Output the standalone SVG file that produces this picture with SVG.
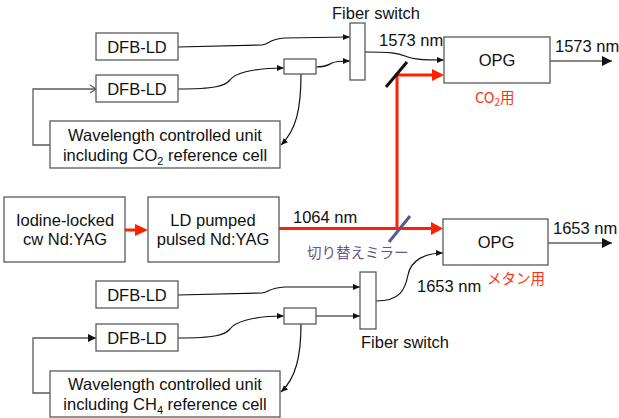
<svg xmlns="http://www.w3.org/2000/svg" width="619" height="418" viewBox="0 0 619 418">
<defs>
<style>
.box{fill:#fff;stroke:#5a5a5a;stroke-width:1.3}
.t{font-family:"Liberation Sans",Arial,sans-serif;font-size:16.5px;fill:#111;text-anchor:middle}
.tl{font-family:"Liberation Sans",Arial,sans-serif;font-size:16.5px;fill:#111}
.jp{font-family:"Noto Sans CJK JP","Liberation Sans",sans-serif;font-size:14.5px}
.red{fill:#ff3010}
.pur{fill:#65568a}
.fb{fill:none;stroke:#111;stroke-width:1.2}
.gray{fill:none;stroke:#5a5a5a;stroke-width:1.3}
.beam{fill:none;stroke:#ff2000;stroke-width:3}
</style>
<marker id="ah" markerWidth="8" markerHeight="8" refX="7" refY="4" orient="auto" markerUnits="userSpaceOnUse">
<path d="M0,1 L7,4 L0,7 Z" fill="#111"/>
</marker>
<marker id="ahbig" markerWidth="12" markerHeight="12" refX="10" refY="6" orient="auto" markerUnits="userSpaceOnUse">
<path d="M0,1 L10,6 L0,11 Z" fill="#111"/>
</marker>
<marker id="open" markerWidth="10" markerHeight="10" refX="8" refY="5" orient="auto" markerUnits="userSpaceOnUse">
<path d="M2,1 L8,5 L2,9" fill="none" stroke="#5a5a5a" stroke-width="1.2"/>
</marker>
<marker id="fill" markerWidth="10" markerHeight="10" refX="8" refY="5" orient="auto" markerUnits="userSpaceOnUse">
<path d="M0,1 L8,5 L0,9 Z" fill="#111"/>
</marker>
</defs>
<rect width="619" height="418" fill="#fff"/>

<g id="connectors">
<path class="fb" d="M178,47 L262,45 C270,44 268,39 285,38 L350,37" marker-end="url(#ah)"/>
<path class="fb" d="M178,89 C215,89 225,86 230,80 C234,74 250,68 284,68" marker-end="url(#ah)"/>
<path class="fb" d="M316,67 C326,67 328,65 332,63 C336,61 340,61 350,61" marker-end="url(#ah)"/>
<path class="fb" d="M365,52 C390,52 398,53 405,56 C412,59 420,60 444,60" marker-end="url(#ah)"/>
<path class="fb" d="M301,74 C301,110 296,130 281,145" marker-end="url(#ah)"/>
<path class="gray" d="M50,145 L33,145 L33,89 L96,89" marker-end="url(#open)"/>
<path class="fb" d="M550,61 L612,61" marker-end="url(#ahbig)"/>
<path class="fb" d="M178,295 L262,293 C270,292 268,288 285,287 L360,287" marker-end="url(#ah)"/>
<path class="fb" d="M178,338 C215,338 225,335 230,329 C234,323 250,316 284,316" marker-end="url(#ah)"/>
<path class="fb" d="M316,316 L360,316" marker-end="url(#ah)"/>
<path class="fb" d="M376,301 C400,301 405,290 408,275 C411,260 425,253 443,253" marker-end="url(#ah)"/>
<path class="fb" d="M301,324 C301,356 296,378 281,392" marker-end="url(#ah)"/>
<path class="gray" d="M50,393 L33,393 L33,338 L96,338" marker-end="url(#fill)"/>
<path class="fb" d="M548,243 L612,243" marker-end="url(#ahbig)"/>
<path class="beam" d="M125,230 L136,230"/>
<path d="M135,224 L148,230 L135,236 Z" fill="#ff2000"/>
<path class="beam" d="M279,228.5 L431,228.5"/>
<path class="beam" d="M397,228.5 L397,75 L433,75"/>
<path d="M431,222 L443,228.5 L431,235 Z" fill="#ff2000"/>
<path d="M432,69 L444,75 L432,81 Z" fill="#ff2000"/>
<line x1="386" y1="87" x2="407" y2="62" stroke="#111" stroke-width="3"/>
<line x1="389" y1="242" x2="410" y2="216" stroke="#65568a" stroke-width="3"/>
</g>

<g id="dfb1"><rect class="box" x="96" y="33" width="82" height="27"/><text class="t" x="137" y="52.5">DFB-LD</text></g>
<g id="dfb2"><rect class="box" x="96" y="75" width="82" height="27"/><text class="t" x="137" y="94.5">DFB-LD</text></g>
<g id="coupler1"><rect class="box" x="284" y="59" width="32" height="15"/></g>
<g id="switch1"><rect class="box" x="350" y="23" width="15" height="57"/><text class="t" x="376" y="19">Fiber switch</text></g>
<g id="wcu1"><rect class="box" x="50" y="121" width="230" height="47"/>
<text class="t" x="165" y="141">Wavelength controlled unit</text>
<text class="t" x="165" y="161">including CO<tspan font-size="11" dy="4">2</tspan><tspan dy="-4"> reference cell</tspan></text></g>
<g id="opg1"><rect class="box" x="444" y="37" width="106" height="46"/><text class="t" x="497" y="66">OPG</text></g>
<text class="tl" x="379" y="46">1573 nm</text>
<text class="tl" x="555" y="52">1573 nm</text>
<text class="jp red" x="475" y="103">CO<tspan font-size="10" dy="3">2</tspan><tspan dy="-3">用</tspan></text>

<g id="iodine"><rect class="box" x="4" y="197" width="121" height="65"/>
<text class="t" x="65" y="226">Iodine-locked</text><text class="t" x="65" y="245">cw Nd:YAG</text></g>
<g id="ldpumped"><rect class="box" x="148" y="197" width="131" height="65"/>
<text class="t" x="213" y="226">LD pumped</text><text class="t" x="213" y="245">pulsed Nd:YAG</text></g>
<text class="tl" x="293" y="223">1064 nm</text>
<text class="jp pur" x="307" y="258">切り替えミラー</text>

<g id="opg2"><rect class="box" x="443" y="219" width="105" height="46"/><text class="t" x="496" y="248">OPG</text></g>
<text class="tl" x="553" y="234">1653 nm</text>
<text class="tl" x="417" y="292">1653 nm</text>
<text class="jp red" x="487" y="284">メタン用</text>

<g id="dfb3"><rect class="box" x="96" y="281" width="82" height="27"/><text class="t" x="137" y="300.5">DFB-LD</text></g>
<g id="dfb4"><rect class="box" x="96" y="324" width="82" height="27"/><text class="t" x="137" y="343.5">DFB-LD</text></g>
<g id="coupler2"><rect class="box" x="284" y="308" width="32" height="16"/></g>
<g id="switch2"><rect class="box" x="360" y="272" width="16" height="57"/><text class="t" x="405" y="348">Fiber switch</text></g>
<g id="wcu2"><rect class="box" x="50" y="371" width="230" height="46"/>
<text class="t" x="165" y="390">Wavelength controlled unit</text>
<text class="t" x="165" y="410">including CH<tspan font-size="11" dy="4">4</tspan><tspan dy="-4"> reference cell</tspan></text></g>
</svg>
